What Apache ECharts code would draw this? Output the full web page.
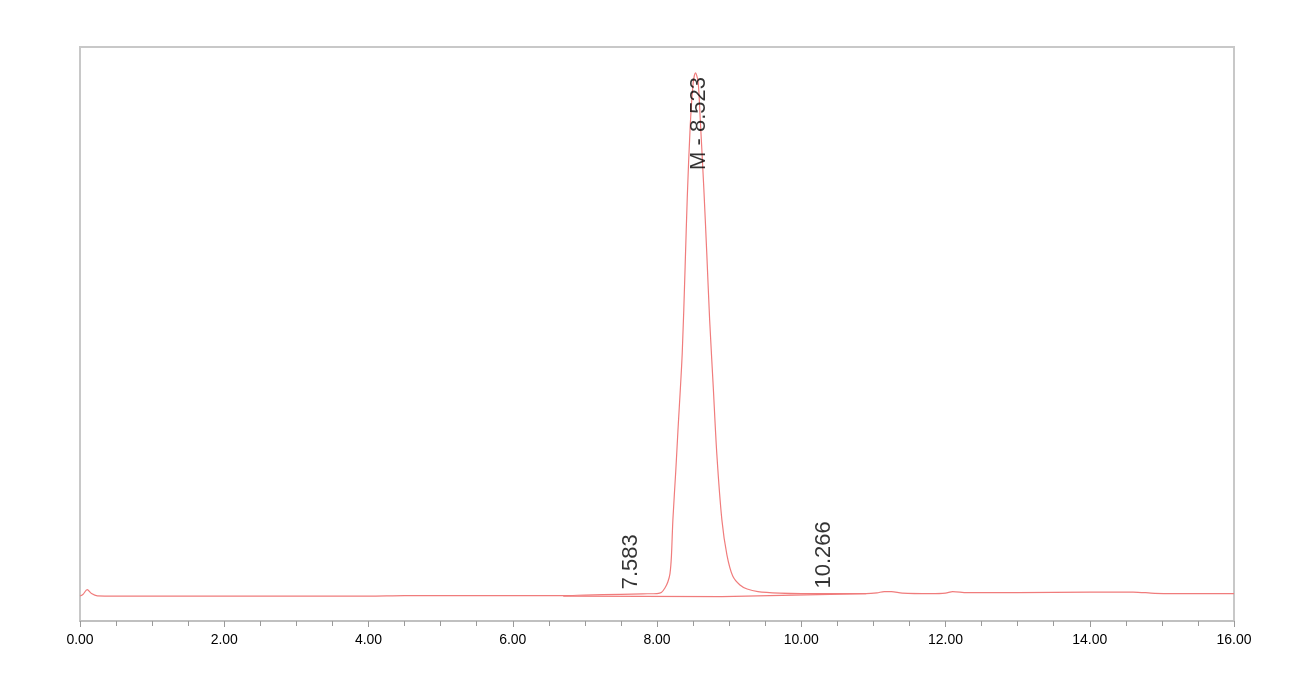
<!DOCTYPE html>
<html>
<head>
<meta charset="utf-8">
<script src="https://cdn.jsdelivr.net/npm/echarts@6/dist/echarts.min.js"></script>
<style>
html,body{margin:0;padding:0;background:#fff;}
#chart{width:1307px;height:683px;}
</style>
</head>
<body>
<div id="chart"></div>
<script>
// Retention time (min) of the trace
const times = [0.00,0.04,0.10,0.16,0.24,0.5,1.0,2.0,3.0,4.0,4.5,5.0,6.0,6.7,7.0,7.5,7.8,8.00,8.06,8.11,8.15,8.18,8.20,8.22,8.26,8.29,8.35,8.39,8.42,8.46,8.50,8.534,8.57,8.60,8.65,8.69,8.73,8.78,8.83,8.90,8.97,9.05,9.15,9.25,9.4,9.7,10.0,10.5,10.9,11.05,11.15,11.25,11.4,11.8,12.0,12.1,12.3,13.0,14.0,14.6,14.9,15.2,16.0];
// Detector response
const signal = [0.0,0.3,1.3,0.5,0.05,0.0,0.0,0.0,0.0,0.0,0.1,0.1,0.1,0.1,0.2,0.35,0.45,0.5,0.7,1.6,2.8,4.5,8,15.2,25,33,48.7,66,80,94,102.6,104.8,103,95.4,81.4,68.7,55.3,41.9,28.3,15.2,8.2,4.0,2.2,1.4,0.9,0.6,0.5,0.5,0.5,0.65,0.9,0.9,0.6,0.5,0.6,0.9,0.7,0.7,0.8,0.8,0.55,0.5,0.5];
// Integration baseline
const baseTimes = [6.7, 8.9, 10.9];
const baseValues = [0.0, -0.1, 0.5];
// Peak annotations
const peakTimes = [7.583, 8.523, 10.266];
const peakHeights = [0.35, 104.8, 0.5];
const peakNames = ['7.583', 'M - 8.523', '10.266'];
// Axis ticks
const xTickLabels = ['0.00','2.00','4.00','6.00','8.00','10.00','12.00','14.00','16.00'];

const lineColor = '#f07c7c';
const traceData = times.map((t, i) => [t, signal[i]]);
const baseData = baseTimes.map((t, i) => [t, baseValues[i]]);
const peakData = peakTimes.map((t, i) => {
  const big = peakHeights[i] > 50;
  return {
    value: [t, peakHeights[i], peakNames[i]],
    label: big
      ? { position: 'bottom', distance: 4, align: 'right', verticalAlign: 'middle', offset: [0, 4] }
      : { position: 'top', distance: 5, align: 'left', verticalAlign: 'middle', offset: [0, 4] }
  };
});

const chart = echarts.init(document.getElementById('chart'));
chart.setOption({
  backgroundColor: '#fff',
  animation: false,
  grid: { left: 80, right: 73, top: 47, bottom: 62, show: true, borderColor: '#c8c8c8', borderWidth: 2, backgroundColor: 'transparent' },
  xAxis: {
    type: 'value', min: 0, max: 16, interval: 2,
    axisLine: { show: true, onZero: false, lineStyle: { color: '#c0c0c0', width: 2 } },
    axisTick: { show: true, inside: false, length: 6, lineStyle: { color: '#9a9a9a', width: 1 } },
    minorTick: { show: true, splitNumber: 4, length: 5, lineStyle: { color: '#9a9a9a', width: 1 } },
    splitLine: { show: false },
    axisLabel: {
      margin: 12, color: '#000', fontSize: 14, fontFamily: 'Liberation Sans, Arial, sans-serif',
      formatter: (v) => xTickLabels[Math.round(v / 2)] ?? ''
    }
  },
  yAxis: {
    type: 'value', min: -5, max: 110,
    axisLine: { show: false }, axisTick: { show: false }, axisLabel: { show: false }, splitLine: { show: false }
  },
  series: [
    {
      type: 'line', data: traceData, symbol: 'none', smooth: 0.3,
      lineStyle: { color: lineColor, width: 1.2 }, z: 3
    },
    {
      type: 'line', data: baseData, symbol: 'none',
      lineStyle: { color: lineColor, width: 1.2 }, z: 2
    },
    {
      type: 'scatter', data: peakData, symbolSize: 0, z: 5,
      label: {
        show: true, rotate: 90, color: '#000', fontSize: 22,
        fontFamily: 'Liberation Sans, Arial, sans-serif',
        formatter: (p) => p.value[2]
      }
    }
  ]
});
</script>
</body>
</html>
